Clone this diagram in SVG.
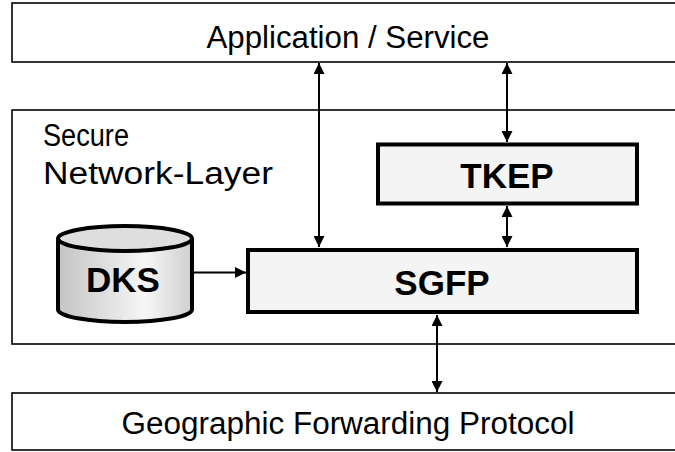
<svg xmlns="http://www.w3.org/2000/svg" width="675" height="452" viewBox="0 0 675 452">
  <style>
    .layer { fill: #ffffff; stroke: #000000; stroke-width: 1.6; }
    .block { fill: #f4f4f4; stroke: #000000; stroke-width: 4; }
    .label { font-family: "Liberation Sans", Arial, sans-serif; font-size: 31px; fill: #000000; }
    .bold { font-family: "Liberation Sans", Arial, sans-serif; font-size: 35px; font-weight: bold; fill: #000000; text-anchor: middle; }
    .conn { stroke: #000000; stroke-width: 2; fill: none; }
  </style>
  <defs>
    <marker id="arrow" viewBox="0 0 10 10" refX="10" refY="5" markerWidth="5.5" markerHeight="5.5" orient="auto-start-reverse" markerUnits="strokeWidth">
      <path d="M0,0 L10,5 L0,10 z" fill="#000000"/>
    </marker>
    <linearGradient id="cyl" x1="0" y1="0" x2="1" y2="0">
      <stop offset="0" stop-color="#c4c4c4"/>
      <stop offset="0.65" stop-color="#f6f6f6"/>
      <stop offset="1" stop-color="#cfcfcf"/>
    </linearGradient>
  </defs>

  <g id="application">
    <rect class="layer" x="12" y="3" width="680" height="59"/>
    <text class="label" x="348" y="48" text-anchor="middle" textLength="283" lengthAdjust="spacingAndGlyphs">Application / Service</text>
  </g>

  <g id="secure-network-layer">
    <rect class="layer" x="12" y="110" width="680" height="234"/>
    <text class="label" x="43" y="146" textLength="86" lengthAdjust="spacingAndGlyphs">Secure</text>
    <text class="label" x="43" y="184" textLength="230" lengthAdjust="spacingAndGlyphs">Network-Layer</text>
  </g>

  <g id="tkep">
    <rect class="block" x="378" y="144.5" width="259" height="59"/>
    <text class="bold" x="507" y="188">TKEP</text>
  </g>

  <g id="sgfp">
    <rect class="block" x="248" y="250" width="389" height="62"/>
    <text class="bold" x="442" y="295">SGFP</text>
  </g>

  <g id="dks">
    <path d="M58,238.5 L58,309.5 A67,12.5 0 0 0 192,309.5 L192,238.5" fill="url(#cyl)" stroke="#000000" stroke-width="4"/>
    <ellipse cx="125" cy="238.5" rx="67" ry="12.5" fill="#dedede" stroke="#000000" stroke-width="4"/>
    <text class="bold" x="123" y="292">DKS</text>
  </g>

  <g id="forwarding">
    <rect class="layer" x="12" y="393" width="680" height="57"/>
    <text class="label" x="348" y="434" text-anchor="middle" textLength="453" lengthAdjust="spacingAndGlyphs">Geographic Forwarding Protocol</text>
  </g>

  <g id="connectors">
    <line class="conn" x1="319" y1="63" x2="319" y2="247" marker-start="url(#arrow)" marker-end="url(#arrow)"/>
    <line class="conn" x1="507" y1="63" x2="507" y2="142" marker-start="url(#arrow)" marker-end="url(#arrow)"/>
    <line class="conn" x1="507" y1="206" x2="507" y2="247" marker-start="url(#arrow)" marker-end="url(#arrow)"/>
    <line class="conn" x1="437" y1="315" x2="437" y2="392" marker-start="url(#arrow)" marker-end="url(#arrow)"/>
    <line class="conn" x1="194" y1="272.5" x2="246" y2="272.5" marker-end="url(#arrow)"/>
  </g>
</svg>
